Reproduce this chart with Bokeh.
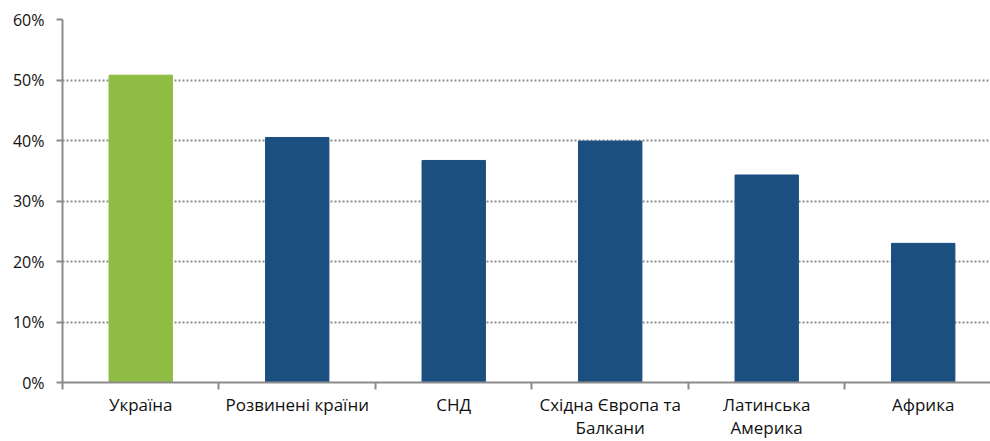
from bokeh.plotting import figure
from bokeh.models import FixedTicker, Range1d, ColumnDataSource
from bokeh.embed import file_html
from bokeh.resources import INLINE

categories = ["Україна", "Розвинені країни", "СНД", "Східна Європа та\nБалкани", "Латинська\nАмерика", "Африка"]
values = [50.8, 40.5, 36.7, 39.9, 34.3, 23.0]
colors = ["#8FBC42", "#1B4F80", "#1B4F80", "#1B4F80", "#1B4F80", "#1B4F80"]
y_ticks = [0, 10, 20, 30, 40, 50, 60]
y_labels = ["0%", "10%", "20%", "30%", "40%", "50%", "60%"]

xs = [i + 0.5 for i in range(len(categories))]
src = ColumnDataSource(dict(x=xs, top=values, color=colors))

p = figure(width=990, height=441, output_backend="svg", toolbar_location=None,
           x_range=Range1d(0, 5.93), y_range=Range1d(0, 60),
           min_border_left=62, min_border_right=0, min_border_top=19, min_border_bottom=0)
p.outline_line_color = None
p.background_fill_color = "white"

p.vbar(x="x", top="top", width=0.405, bottom=0, fill_color="color", line_color="color", source=src)

# y axis
p.yaxis.ticker = FixedTicker(ticks=y_ticks, minor_ticks=[])
p.yaxis.major_label_overrides = {t: l for t, l in zip(y_ticks, y_labels)}
p.yaxis.axis_line_color = "#8C8C8C"
p.yaxis.axis_line_width = 2
p.yaxis.major_tick_line_color = "#8C8C8C"
p.yaxis.major_tick_line_width = 2
p.yaxis.major_tick_out = 6
p.yaxis.major_tick_in = 0
p.yaxis.major_label_text_font = "Open Sans"
p.yaxis.major_label_text_font_size = "16px"
p.yaxis.major_label_text_color = "#111111"
p.yaxis.major_label_standoff = 12

# x axis: labels at category centres, tick marks at boundaries
p.xaxis.ticker = FixedTicker(ticks=xs, minor_ticks=list(range(0, 7)))
p.xaxis.major_label_overrides = {x: c for x, c in zip(xs, categories)}
p.xaxis.axis_line_color = "#8C8C8C"
p.xaxis.axis_line_width = 2
p.xaxis.major_tick_out = 0
p.xaxis.major_tick_in = 0
p.xaxis.minor_tick_line_color = "#8C8C8C"
p.xaxis.minor_tick_line_width = 2
p.xaxis.minor_tick_out = 7
p.xaxis.minor_tick_in = 0
p.xaxis.major_label_text_font = "Open Sans"
p.xaxis.major_label_text_font_size = "17px"
p.xaxis.major_label_text_color = "#111111"
p.xaxis.major_label_text_line_height = 1.0
p.xaxis.major_label_standoff = 3

p.xgrid.grid_line_color = None
p.ygrid.ticker = FixedTicker(ticks=y_ticks)
p.ygrid.grid_line_color = "#8C8C8C"
p.ygrid.grid_line_width = 2
p.ygrid.grid_line_dash = "2 2"

open("out.html", "w").write(file_html(p, INLINE))
